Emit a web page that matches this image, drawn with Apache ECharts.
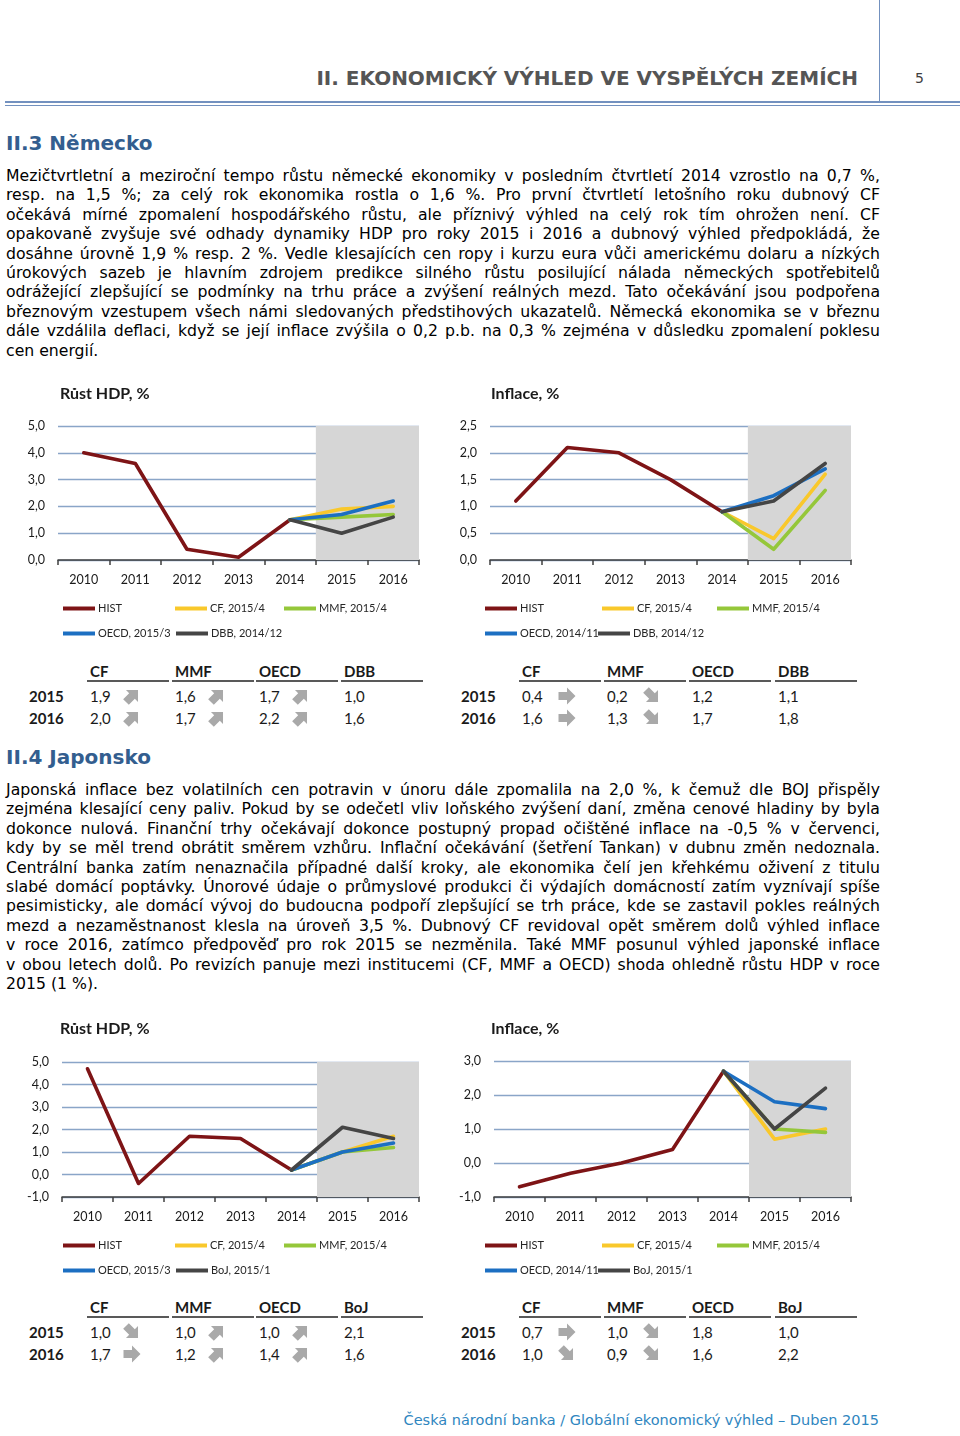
<!DOCTYPE html>
<html>
<head>
<meta charset="utf-8">
<script src="https://cdn.jsdelivr.net/npm/echarts@6/dist/echarts.min.js"></script>
<style>
  html,body{margin:0;padding:0;background:#fff;}
  #page{position:relative;width:960px;height:1436px;overflow:hidden;font-family:"DejaVu Sans",Verdana,sans-serif;color:#000;}
  .abs{position:absolute;}
  .para{position:absolute;left:6px;width:874px;font-size:15.7px;line-height:19.4px;color:#000;}
  .para .j{text-align:justify;text-align-last:justify;}
  .para .l{text-align:left;}
  .h2{position:absolute;left:6px;font-weight:bold;font-size:20px;line-height:24px;color:#335e8f;}
  .tbl{position:absolute;font-family:Lato,"Liberation Sans",sans-serif;font-size:15px;color:#1a1a1a;line-height:18px;}
  .tbl .hd{position:absolute;font-weight:bold;}
  .tbl .ul{position:absolute;height:2px;background:#595959;}
  .tbl .rl{position:absolute;font-weight:bold;}
  .tbl .v{position:absolute;}
  .tbl svg{position:absolute;}
  .chart{position:absolute;width:440px;height:270px;}
</style>
</head>
<body>
<div id="page">
  <!-- header -->
  <div class="abs" style="left:879px;top:0;width:1px;height:101px;background:#7391bf;"></div>
  <div class="abs" style="right:102px;top:65px;font-weight:bold;font-size:20px;line-height:26px;color:#555;white-space:nowrap;">II. EKONOMICKÝ VÝHLED VE VYSPĚLÝCH ZEMÍCH</div>
  <div class="abs" style="left:915px;top:68px;font-size:14px;line-height:20px;color:#404040;">5</div>
  <div class="abs" style="left:5px;top:101px;width:955px;height:2px;background:#7391bf;"></div>
  <div class="abs" style="left:5px;top:105px;width:955px;height:1px;background:#7391bf;"></div>

  <div class="h2" style="top:131px;">II.3 Německo</div>
  <div class="para" style="top:166px;">
    <div class="j">Mezičtvrtletní a meziroční tempo růstu německé ekonomiky v posledním čtvrtletí  2014 vzrostlo na 0,7 %,</div>
    <div class="j">resp. na 1,5 %; za celý rok ekonomika rostla o 1,6 %. Pro první čtvrtletí letošního roku dubnový CF</div>
    <div class="j">očekává mírné zpomalení hospodářského růstu, ale příznivý výhled na celý rok tím ohrožen není. CF</div>
    <div class="j">opakovaně zvyšuje své odhady dynamiky HDP pro roky 2015 i 2016 a dubnový výhled předpokládá, že</div>
    <div class="j">dosáhne úrovně 1,9 % resp. 2 %. Vedle klesajících cen ropy i kurzu eura vůči americkému dolaru a nízkých</div>
    <div class="j">úrokových sazeb je hlavním zdrojem predikce silného růstu posilující nálada německých spotřebitelů</div>
    <div class="j">odrážející zlepšující se podmínky na trhu práce a zvýšení reálných mezd. Tato očekávání jsou podpořena</div>
    <div class="j">březnovým vzestupem všech námi sledovaných předstihových ukazatelů. Německá ekonomika se v březnu</div>
    <div class="j">dále vzdálila deflaci, když se její inflace zvýšila o 0,2 p.b. na 0,3 % zejména v důsledku zpomalení poklesu</div>
    <div class="l">cen energií.</div>
  </div>

  <div id="c1" class="chart" style="left:0;top:380px;"></div>
  <div id="c2" class="chart" style="left:440px;top:380px;"></div>
  <div id="t1" class="tbl" style="left:0;top:662px;"></div>
  <div id="t2" class="tbl" style="left:0;top:662px;"></div>

  <div class="h2" style="top:745px;">II.4 Japonsko</div>
  <div class="para" style="top:780px;">
    <div class="j">Japonská inflace bez volatilních cen potravin v únoru dále zpomalila na 2,0 %, k čemuž dle BOJ přispěly</div>
    <div class="j">zejména klesající ceny paliv. Pokud by se odečetl vliv loňského zvýšení daní, změna cenové hladiny by byla</div>
    <div class="j">dokonce nulová. Finanční trhy očekávají dokonce postupný propad očištěné inflace na -0,5 % v červenci,</div>
    <div class="j">kdy by se měl trend obrátit směrem vzhůru. Inflační očekávání (šetření Tankan) v dubnu změn nedoznala.</div>
    <div class="j">Centrální banka zatím nenaznačila případné další kroky, ale ekonomika čelí jen křehkému oživení z titulu</div>
    <div class="j">slabé domácí poptávky. Únorové údaje o průmyslové produkci či výdajích domácností zatím vyznívají spíše</div>
    <div class="j">pesimisticky, ale domácí vývoj do budoucna podpoří zlepšující se trh práce, kde se zastavil pokles reálných</div>
    <div class="j">mezd a nezaměstnanost klesla na úroveň 3,5 %. Dubnový CF revidoval opět směrem dolů výhled inflace</div>
    <div class="j">v roce 2016, zatímco předpověď pro rok 2015 se nezměnila. Také MMF posunul výhled japonské inflace</div>
    <div class="j">v obou letech dolů. Po revizích panuje mezi institucemi (CF, MMF a OECD) shoda ohledně růstu HDP v roce</div>
    <div class="l">2015 (1 %).</div>
  </div>

  <div id="c3" class="chart" style="left:0;top:1015px;"></div>
  <div id="c4" class="chart" style="left:440px;top:1015px;"></div>
  <div id="t3" class="tbl" style="left:0;top:1298px;"></div>
  <div id="t4" class="tbl" style="left:0;top:1298px;"></div>

  <div class="abs" style="right:81px;top:1410px;font-size:14.5px;line-height:20px;color:#2f86c0;white-space:nowrap;">Česká národní banka / Globální ekonomický výhled – Duben 2015</div>
</div>

<script>
// ---------------- DATA ----------------
const years = ['2010','2011','2012','2013','2014','2015','2016'];
const forecastYears = ['2015','2016'];

// Germany – GDP growth, %
const deGdpHist = [4.0, 3.6, 0.4, 0.1, 1.5];
const deGdpCF   = [1.9, 2.0];
const deGdpMMF  = [1.6, 1.7];
const deGdpOECD = [1.7, 2.2];
const deGdpDBB  = [1.0, 1.6];
const deGdpRev  = [['up','up'], ['up','up'], ['up','up'], [null,null]];

// Germany – inflation, %
const deInfHist = [1.1, 2.1, 2.0, 1.5, 0.9];
const deInfCF   = [0.4, 1.6];
const deInfMMF  = [0.2, 1.3];
const deInfOECD = [1.2, 1.7];
const deInfDBB  = [1.1, 1.8];
const deInfRev  = [['right','right'], ['down','down'], [null,null], [null,null]];

// Japan – GDP growth, %
const jpGdpHist = [4.7, -0.4, 1.7, 1.6, 0.2];
const jpGdpCF   = [1.0, 1.7];
const jpGdpMMF  = [1.0, 1.2];
const jpGdpOECD = [1.0, 1.4];
const jpGdpBoJ  = [2.1, 1.6];
const jpGdpRev  = [['down','right'], ['up','up'], ['up','up'], [null,null]];

// Japan – inflation, %
const jpInfHist = [-0.7, -0.3, 0.0, 0.4, 2.7];
const jpInfCF   = [0.7, 1.0];
const jpInfMMF  = [1.0, 0.9];
const jpInfOECD = [1.8, 1.6];
const jpInfBoJ  = [1.0, 2.2];
const jpInfRev  = [['right','down'], ['down','down'], [null,null], [null,null]];

// axis ticks
const deGdpAxis = {min: 0, max: 5, interval: 1};
const deInfAxis = {min: 0, max: 2.5, interval: 0.5};
const jpGdpAxis = {min: -1, max: 5, interval: 1};
const jpInfAxis = {min: -1, max: 3, interval: 1};

// ---------------- STYLE / LAYOUT ----------------
const COLORS = {hist:'#7e1416', cf:'#f9c82b', mmf:'#95c73a', oecd:'#1c6fc2', other:'#454545'};
const FONT = 'Lato, "Liberation Sans", sans-serif';
const fmt = v => v.toFixed(1).replace('.', ',');
// legend item x-positions (row 1: HIST, CF, MMF; row 2: OECD, other)
const legLeftChart  = [[63, 175, 284], [63, 176]];
const legRightChart = [[45, 162, 277], [45, 158]];

function forecastSeries(hist, vals) {
  const out = years.map(() => null);
  out[hist.length - 1] = hist[hist.length - 1];
  vals.forEach((v, i) => { out[years.indexOf(forecastYears[i])] = v; });
  return out;
}

function lineSeries(name, data, color) {
  return {
    name, type: 'line', data, symbol: 'none', connectNulls: false,
    lineStyle: {color, width: 3.6, join: 'round', cap: 'round'},
    itemStyle: {color}, emphasis: {disabled: true}
  };
}

function makeChart(id, cfg) {
  const chart = echarts.init(document.getElementById(id), null, {renderer: 'canvas'});
  const n = years.length;
  const shadeStart = years.indexOf(forecastYears[0]);
  const allNames = ['HIST'].concat(cfg.names);
  const rows = [[allNames[0], allNames[1], allNames[2]], [allNames[3], allNames[4]]];
  const legends = [];
  rows.forEach((row, r) => row.forEach((nm, k) => {
    legends.push({data: [nm], left: cfg.leg[r][k], top: cfg.legendTop + r * 25,
      icon: 'rect', itemWidth: 32, itemHeight: 4, selectedMode: false, padding: 0,
      textStyle: {fontSize: 11, fontFamily: FONT, color: '#262626', padding: [0, 0, 0, -2]}});
  }));
  chart.setOption({
    animation: false,
    title: {text: cfg.title, left: cfg.titleLeft, top: 1,
      textStyle: {fontFamily: FONT, fontWeight: 'bold', fontSize: 16, color: '#1a1a1a'}},
    grid: {left: cfg.grid[0], right: cfg.grid[1], top: cfg.grid[2], bottom: cfg.grid[3], containLabel: false},
    legend: legends,
    xAxis: [
      {type: 'category', data: years, boundaryGap: true,
        axisLine: {onZero: false, lineStyle: {color: '#404040', width: 1.5}},
        axisTick: {show: true, length: 5, lineStyle: {color: '#404040', width: 1.5}},
        axisLabel: {margin: 13, fontSize: 12.5, fontFamily: FONT, color: '#1a1a1a'},
        splitLine: {show: false}},
      {type: 'value', min: 0, max: n, show: false}
    ],
    yAxis: {type: 'value', min: cfg.axis.min, max: cfg.axis.max, interval: cfg.axis.interval,
      axisLine: {show: false}, axisTick: {show: false},
      axisLabel: {formatter: fmt, margin: 13, fontSize: 12.5, fontFamily: FONT, color: '#1a1a1a'},
      splitLine: {lineStyle: {color: '#8aa5c8', width: 1.3}}},
    series: [
      {type: 'line', xAxisIndex: 1, data: [], silent: true, z: -1,
        markArea: {silent: true, itemStyle: {color: '#d6d6d6'},
          data: [[{xAxis: shadeStart}, {xAxis: n}]]}},
      lineSeries('HIST', cfg.hist, COLORS.hist),
      lineSeries(cfg.names[0], forecastSeries(cfg.hist, cfg.f[0]), COLORS.cf),
      lineSeries(cfg.names[1], forecastSeries(cfg.hist, cfg.f[1]), COLORS.mmf),
      lineSeries(cfg.names[2], forecastSeries(cfg.hist, cfg.f[2]), COLORS.oecd),
      lineSeries(cfg.names[3], forecastSeries(cfg.hist, cfg.f[3]), COLORS.other)
    ]
  });
}

makeChart('c1', {title: 'Růst HDP, %', titleLeft: 55, axis: deGdpAxis, hist: deGdpHist,
  f: [deGdpCF, deGdpMMF, deGdpOECD, deGdpDBB],
  names: ['CF, 2015/4', 'MMF, 2015/4', 'OECD, 2015/3', 'DBB, 2014/12'],
  grid: [58, 21, 46, 90], leg: legLeftChart, legendTop: 223});
makeChart('c2', {title: 'Inflace, %', titleLeft: 46, axis: deInfAxis, hist: deInfHist,
  f: [deInfCF, deInfMMF, deInfOECD, deInfDBB],
  names: ['CF, 2015/4', 'MMF, 2015/4', 'OECD, 2014/11', 'DBB, 2014/12'],
  grid: [50, 29, 46, 90], leg: legRightChart, legendTop: 223});
makeChart('c3', {title: 'Růst HDP, %', titleLeft: 55, axis: jpGdpAxis, hist: jpGdpHist,
  f: [jpGdpCF, jpGdpMMF, jpGdpOECD, jpGdpBoJ],
  names: ['CF, 2015/4', 'MMF, 2015/4', 'OECD, 2015/3', 'BoJ, 2015/1'],
  grid: [62, 21, 47, 88], leg: legLeftChart, legendTop: 225});
makeChart('c4', {title: 'Inflace, %', titleLeft: 46, axis: jpInfAxis, hist: jpInfHist,
  f: [jpInfCF, jpInfMMF, jpInfOECD, jpInfBoJ],
  names: ['CF, 2015/4', 'MMF, 2015/4', 'OECD, 2014/11', 'BoJ, 2015/1'],
  grid: [54, 29, 46, 88], leg: legRightChart, legendTop: 225});

// ---------------- TABLES ----------------
function arrowSvg(dir, x, y) {
  const rot = dir === 'up' ? -45 : dir === 'down' ? 45 : 0;
  return '<svg width="20" height="20" viewBox="0 0 20 20" style="left:' + x + 'px;top:' + (y - 1) + 'px">' +
    '<polygon points="1.5,6 10,6 10,1.5 18.5,10 10,18.5 10,14 1.5,14" fill="#a9a9a9" transform="rotate(' + rot + ' 10 10)"/></svg>';
}

function makeTable(id, cfg) {
  let h = '';
  cfg.heads.forEach((hd, i) => {
    const x = cfg.cols[i];
    h += '<div class="hd" style="left:' + x + 'px;top:0">' + hd + '</div>';
    h += '<div class="ul" style="left:' + (x - 3) + 'px;top:18px;width:82px"></div>';
  });
  forecastYears.forEach((yr, r) => {
    const top = 25 + r * 22;
    h += '<div class="rl" style="left:' + cfg.labelX + 'px;top:' + top + 'px">' + yr + '</div>';
    cfg.vals.forEach((arr, i) => {
      h += '<div class="v" style="left:' + cfg.cols[i] + 'px;top:' + top + 'px">' + fmt(arr[r]) + '</div>';
      const d = cfg.rev[i][r];
      if (d) h += arrowSvg(d, cfg.cols[i] + cfg.arrowDx, top);
    });
  });
  document.getElementById(id).innerHTML = h;
}

const leftCols = [90, 175, 259, 344];
const rightCols = [522, 607, 692, 778];
makeTable('t1', {heads: ['CF','MMF','OECD','DBB'], cols: leftCols, labelX: 29, arrowDx: 32,
  vals: [deGdpCF, deGdpMMF, deGdpOECD, deGdpDBB], rev: deGdpRev});
makeTable('t2', {heads: ['CF','MMF','OECD','DBB'], cols: rightCols, labelX: 461, arrowDx: 35,
  vals: [deInfCF, deInfMMF, deInfOECD, deInfDBB], rev: deInfRev});
makeTable('t3', {heads: ['CF','MMF','OECD','BoJ'], cols: leftCols, labelX: 29, arrowDx: 32,
  vals: [jpGdpCF, jpGdpMMF, jpGdpOECD, jpGdpBoJ], rev: jpGdpRev});
makeTable('t4', {heads: ['CF','MMF','OECD','BoJ'], cols: rightCols, labelX: 461, arrowDx: 35,
  vals: [jpInfCF, jpInfMMF, jpInfOECD, jpInfBoJ], rev: jpInfRev});
</script>
</body>
</html>
